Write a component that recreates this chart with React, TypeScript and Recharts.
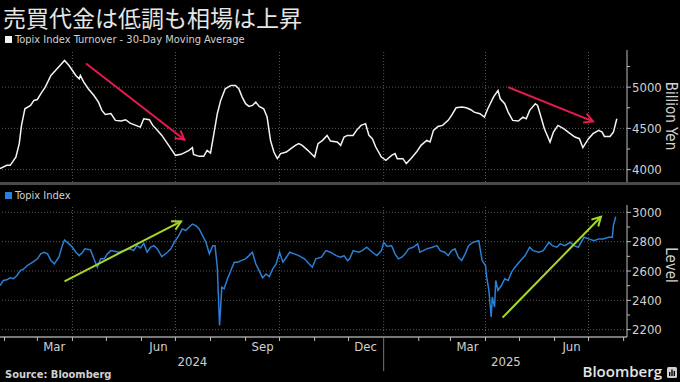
import React from 'react';
import { LineChart, Line, XAxis, YAxis, ReferenceLine } from 'recharts';

// x values are days since 2024-01-01
const turnoverDay = [
  27, 33, 36, 41, 44, 46, 49, 54, 57, 60, 63, 67, 72, 76, 80, 84, 88, 91, 94, 97, 98, 101, 105, 110, 114, 117, 120,
  125, 129, 134, 138, 142, 147, 151, 154, 159, 162, 166, 170, 175, 179, 182, 187, 191, 194, 197, 198, 203, 207, 210,
  213, 216, 219, 222, 226, 231, 235, 238, 241, 244, 247, 250, 253, 256, 260, 263, 266, 269, 272, 275, 280, 284, 288,
  291, 294, 299, 305, 308, 312, 316, 319, 325, 328, 331, 334, 339, 342, 346, 350, 353, 356, 359, 364, 368, 373, 376,
  378, 383, 386, 390, 395, 399, 404, 407, 410, 414, 418, 423, 426, 430, 435, 439, 443, 446, 451, 455, 458, 463, 467,
  469, 473, 476, 480, 485, 489, 492, 495, 500, 502, 505, 508, 513, 516, 520, 525, 529, 535, 539, 542, 547, 551, 556,
  559, 561, 566, 569, 572,
];
// Billion Yen
const turnoverValue = [
  4012, 4052, 4052, 4152, 4315, 4536, 4738, 4778, 4839, 4850, 4919, 5000, 5141, 5202, 5262, 5323, 5262, 5202, 5141,
  5101, 5141, 5060, 4980, 4899, 4818, 4718, 4669, 4680, 4597, 4590, 4605, 4564, 4536, 4515, 4617, 4605, 4536, 4476,
  4415, 4315, 4234, 4173, 4185, 4213, 4234, 4266, 4185, 4161, 4161, 4234, 4200, 4436, 4678, 4839, 4980, 5020, 5020,
  4980, 4879, 4799, 4766, 4778, 4818, 4766, 4738, 4637, 4355, 4213, 4133, 4194, 4213, 4254, 4294, 4315, 4294, 4234,
  4153, 4315, 4355, 4415, 4346, 4335, 4294, 4395, 4415, 4415, 4476, 4536, 4557, 4415, 4375, 4274, 4153, 4113, 4173,
  4194, 4133, 4133, 4073, 4133, 4213, 4294, 4355, 4335, 4476, 4524, 4536, 4597, 4657, 4750, 4758, 4750, 4726, 4697,
  4678, 4637, 4738, 4879, 4960, 4859, 4799, 4697, 4597, 4590, 4637, 4617, 4718, 4799, 4778, 4637, 4496, 4334, 4455,
  4536, 4496, 4455, 4395, 4375, 4266, 4375, 4436, 4476, 4455, 4403, 4403, 4455, 4617,
];

const topixDay = [
  27, 30, 33, 36, 39, 42, 45, 48, 51, 56, 60, 63, 66, 69, 72, 75, 79, 82, 84, 88, 91, 94, 97, 100, 102, 107, 110, 113,
  116, 119, 122, 125, 128, 132, 136, 142, 145, 148, 151, 154, 157, 160, 163, 166, 170, 175, 178, 181, 185, 188, 191,
  194, 197, 200, 203, 206, 209, 212, 215, 217, 219, 221, 223, 225, 228, 231, 234, 237, 240, 244, 247, 250, 253, 256,
  259, 262, 265, 268, 271, 274, 277, 280, 283, 287, 291, 296, 300, 303, 306, 311, 315, 319, 324, 328, 331, 334, 336,
  339, 344, 347, 351, 356, 360, 364, 366, 369, 373, 376, 379, 382, 385, 388, 392, 396, 398, 401, 404, 409, 413, 416,
  420, 423, 426, 429, 432, 435, 438, 441, 445, 450, 453, 456, 457, 459, 461, 462, 464, 465, 467, 470, 473, 476, 479,
  482, 487, 491, 495, 498, 503, 507, 512, 515, 519, 522, 526, 531, 534, 538, 543, 547, 552, 556, 560, 565, 568, 569,
  571,
];
// Index level
const topixValue = [
  2501, 2535, 2540, 2553, 2547, 2569, 2603, 2614, 2637, 2660, 2683, 2717, 2728, 2717, 2671, 2649, 2694, 2773, 2812,
  2785, 2762, 2728, 2705, 2728, 2751, 2744, 2683, 2626, 2683, 2683, 2717, 2739, 2735, 2728, 2739, 2751, 2739, 2773,
  2757, 2789, 2728, 2762, 2773, 2751, 2698, 2728, 2751, 2796, 2841, 2887, 2876, 2898, 2920, 2909, 2887, 2841, 2796,
  2717, 2773, 2773, 2626, 2229, 2490, 2479, 2547, 2603, 2660, 2660, 2671, 2683, 2705, 2728, 2649, 2603, 2553, 2580,
  2562, 2615, 2649, 2728, 2660, 2694, 2728, 2717, 2705, 2683, 2649, 2626, 2683, 2694, 2739, 2728, 2705, 2694, 2705,
  2671, 2683, 2739, 2728, 2739, 2762, 2728, 2705, 2739, 2796, 2767, 2773, 2717, 2683, 2694, 2717, 2751, 2762, 2785,
  2728, 2739, 2751, 2762, 2773, 2739, 2728, 2705, 2739, 2751, 2694, 2671, 2717, 2773, 2796, 2807, 2671, 2637, 2558,
  2467, 2286, 2422, 2354, 2535, 2467, 2501, 2547, 2535, 2592, 2626, 2671, 2705, 2762, 2739, 2728, 2739, 2796, 2773,
  2762, 2785, 2773, 2796, 2773, 2762, 2830, 2819, 2807, 2819, 2819, 2830, 2830, 2909, 2970,
];

const turnoverTicks = [4000, 4250, 4500, 4750, 5000, 5250];
const turnoverLabels = [4000, 4500, 5000];
const topixTicks = [2200, 2300, 2400, 2500, 2600, 2700, 2800, 2900, 3000];
const topixLabels = [2200, 2400, 2600, 2800, 3000];

const axisStart = '2024-01-28';
const axisEnd = '2025-08-04';
const monthStarts = [
  '2024-02', '2024-03', '2024-04', '2024-05', '2024-06', '2024-07', '2024-08', '2024-09', '2024-10', '2024-11',
  '2024-12', '2025-01', '2025-02', '2025-03', '2025-04', '2025-05', '2025-06', '2025-07', '2025-08',
];
const gridMonths = ['2024-04', '2024-07', '2024-10', '2025-01', '2025-04', '2025-07'];
const labelMonths = ['2024-03', '2024-06', '2024-09', '2024-12', '2025-03', '2025-06'];
const monthNames = ['Mar', 'Jun', 'Sep', 'Dec', 'Mar', 'Jun'];
const years = ['2024', '2025'];

// annotation arrows, in data coordinates [day, value]
const turnoverArrows = [
  { from: [103, 5286], to: [190, 4363] },
  { from: [476, 5000], to: [551, 4584] },
];
const topixArrows = [
  { from: [84, 2530], to: [187, 2938] },
  { from: [471, 2282], to: [558, 2970] },
];

const dayOf = (s: string) => {
  const [y, m, d] = s.split('-').map(Number);
  return Math.round((Date.UTC(y, m - 1, d || 1) - Date.UTC(2024, 0, 1)) / 86400000);
};

const x0 = dayOf(axisStart);
const x1 = dayOf(axisEnd);
const yearSplit = dayOf('2025-01');

const turnoverData = turnoverDay.map((d, i) => ({ day: d, v: turnoverValue[i] }));
const topixData = topixDay.map((d, i) => ({ day: d, v: topixValue[i] }));

const NARROW = '"Liberation Sans Narrow", "DejaVu Sans Condensed", sans-serif';
const GRID = '#5a5a5a';
const AXIS = '#bdbdbd';
const TEXT = '#d0d0d0';

// tick kinds for the x axis
const xTickInfo = new Map<number, { kind: string; text?: string }>();
monthStarts.forEach((m) => xTickInfo.set(dayOf(m), { kind: dayOf(m) === yearSplit ? 'year' : 'month' }));
labelMonths.forEach((m, i) => xTickInfo.set(dayOf(m) + 15, { kind: 'mlabel', text: monthNames[i] }));
xTickInfo.set(Math.round((x0 + yearSplit) / 2), { kind: 'ylabel', text: years[0] });
xTickInfo.set(Math.round((yearSplit + x1) / 2), { kind: 'ylabel', text: years[1] });
const xTicks = Array.from(xTickInfo.keys()).sort((a, b) => a - b);

const XTick = (props: any) => {
  const { x, y, payload } = props;
  const info = xTickInfo.get(payload.value);
  if (!info) return null;
  if (info.kind === 'month') return <line x1={x} y1={y} x2={x} y2={y + 4} stroke={AXIS} />;
  if (info.kind === 'year') return <line x1={x} y1={y} x2={x} y2={y + 34} stroke="#777" />;
  return (
    <text x={x} y={info.kind === 'mlabel' ? y + 14 : y + 29} textAnchor="middle" fill={TEXT} fontSize={13} fontFamily={NARROW}>
      {info.text}
    </text>
  );
};

const rightTick = (labels: number[]) => (props: any) => {
  const { x, y, payload } = props;
  const major = labels.includes(payload.value);
  return (
    <g>
      <line x1={x} y1={y} x2={x + (major ? 4 : 3)} y2={y} stroke={AXIS} />
      {major && (
        <text x={x + 5} y={y} dy="0.36em" fill={TEXT} fontSize={13} fontFamily={NARROW}>
          {payload.value}
        </text>
      )}
    </g>
  );
};

const arrowShape = (color: string) => (props: any) => {
  const ax = Number(props.x1), ay = Number(props.y1), bx = Number(props.x2), by = Number(props.y2);
  const ang = Math.atan2(by - ay, bx - ax);
  const len = 10;
  const p1 = [bx + len * Math.cos(ang + Math.PI - 0.5), by + len * Math.sin(ang + Math.PI - 0.5)];
  const p2 = [bx + len * Math.cos(ang + Math.PI + 0.5), by + len * Math.sin(ang + Math.PI + 0.5)];
  return (
    <g>
      <line x1={ax} y1={ay} x2={bx} y2={by} stroke={color} strokeWidth={2} />
      <polyline points={`${p1[0]},${p1[1]} ${bx},${by} ${p2[0]},${p2[1]}`} fill="none" stroke={color} strokeWidth={2} />
    </g>
  );
};

const gridLines = (labels: number[]) => [
  ...labels.map((v) => <ReferenceLine key={'h' + v} y={v} stroke={GRID} strokeDasharray="1 2" />),
  ...gridMonths.map((m) => <ReferenceLine key={'v' + m} x={dayOf(m)} stroke={GRID} strokeDasharray="1 2" />),
];

const rotated = (left: number, top: number): React.CSSProperties => ({
  position: 'absolute',
  left,
  top,
  transform: 'translate(-50%, -50%) rotate(90deg)',
  color: TEXT,
  fontSize: 15,
  lineHeight: 1,
  fontFamily: NARROW,
  whiteSpace: 'nowrap',
});

const App: React.FC = () => {
  return (
    <div style={{ position: 'absolute', left: 0, top: 0, width: 680, height: 382, background: '#000', overflow: 'hidden' }}>
      <div style={{ position: 'absolute', left: 3, top: 0, fontSize: 23, color: '#e6e6e6', fontFamily: '"Noto Sans CJK JP", sans-serif', whiteSpace: 'nowrap' }}>
        売買代金は低調も相場は上昇
      </div>
      <div style={{ position: 'absolute', left: 5, top: 33, fontSize: 11, color: TEXT, fontFamily: NARROW, whiteSpace: 'nowrap', display: 'flex', alignItems: 'center' }}>
        <span style={{ display: 'inline-block', width: 7, height: 7, background: '#f2f2f2', marginRight: 3 }} />
        Topix Index Turnover - 30-Day Moving Average
      </div>

      <div style={{ position: 'absolute', left: 0, top: 50 }}>
        <LineChart width={680} height={132} data={turnoverData} margin={{ top: 0, right: 0, bottom: 0, left: 0 }}>
          <XAxis type="number" dataKey="day" domain={[x0, x1]} hide allowDataOverflow />
          <YAxis
            orientation="right"
            width={53}
            domain={[3850, 5450]}
            ticks={turnoverTicks}
            interval={0}
            tickSize={0}
            tickMargin={0}
            tickLine={false}
            axisLine={{ stroke: AXIS }}
            tick={rightTick(turnoverLabels)}
            allowDataOverflow
          />
          {gridLines(turnoverLabels)}
          <Line dataKey="v" stroke="#f4f4f4" strokeWidth={1.5} dot={false} isAnimationActive={false} />
          {turnoverArrows.map((a, i) => (
            <ReferenceLine
              key={'ra' + i}
              segment={[{ x: a.from[0], y: a.from[1] }, { x: a.to[0], y: a.to[1] }]}
              shape={arrowShape('#e8194f')}
            />
          ))}
        </LineChart>
      </div>
      <div style={rotated(670, 116)}>Billion Yen</div>

      <div style={{ position: 'absolute', left: 0, top: 182, width: 680, height: 3, background: '#4a4a4a' }} />

      <div style={{ position: 'absolute', left: 5, top: 189, fontSize: 11, color: TEXT, fontFamily: NARROW, whiteSpace: 'nowrap', display: 'flex', alignItems: 'center' }}>
        <span style={{ display: 'inline-block', width: 7, height: 7, background: '#2a7fd6', marginRight: 3 }} />
        Topix Index
      </div>

      <div style={{ position: 'absolute', left: 0, top: 205 }}>
        <LineChart width={680} height={170} data={topixData} margin={{ top: 0, right: 0, bottom: 0, left: 0 }}>
          <XAxis
            type="number"
            dataKey="day"
            domain={[x0, x1]}
            ticks={xTicks}
            interval={0}
            height={38}
            tickSize={0}
            tickMargin={0}
            tickLine={false}
            axisLine={{ stroke: '#777', strokeWidth: 2 }}
            tick={<XTick />}
            allowDataOverflow
          />
          <YAxis
            orientation="right"
            width={53}
            domain={[2150, 3050]}
            ticks={topixTicks}
            interval={0}
            tickSize={0}
            tickMargin={0}
            tickLine={false}
            axisLine={{ stroke: AXIS }}
            tick={rightTick(topixLabels)}
            allowDataOverflow
          />
          {gridLines(topixLabels)}
          <Line dataKey="v" stroke="#2a7fd6" strokeWidth={1.5} dot={false} isAnimationActive={false} />
          {topixArrows.map((a, i) => (
            <ReferenceLine
              key={'ga' + i}
              segment={[{ x: a.from[0], y: a.from[1] }, { x: a.to[0], y: a.to[1] }]}
              shape={arrowShape('#a6d62c')}
            />
          ))}
        </LineChart>
      </div>
      <div style={rotated(670, 265)}>Level</div>

      <div style={{ position: 'absolute', left: 5, top: 369, fontSize: 11, lineHeight: 1, fontWeight: 700, color: TEXT, fontFamily: '"DejaVu Sans Condensed", sans-serif', whiteSpace: 'nowrap' }}>
        Source: Bloomberg
      </div>
      <div style={{ position: 'absolute', right: 18, top: 364, fontSize: 15, lineHeight: 1, fontWeight: 600, color: '#e6e6e6', fontFamily: '"Open Sans", sans-serif', whiteSpace: 'nowrap' }}>
        Bloomberg
      </div>
      <svg style={{ position: 'absolute', left: 667, top: 367 }} width={10} height={11}>
        <rect x={0} y={0} width={10} height={11} rx={1.5} fill="#cfcfcf" />
        <rect x={2} y={5} width={1.4} height={4} fill="#000" />
        <rect x={4.3} y={2.5} width={1.4} height={6.5} fill="#000" />
        <rect x={6.6} y={4} width={1.4} height={5} fill="#000" />
      </svg>
    </div>
  );
};

export default App;
